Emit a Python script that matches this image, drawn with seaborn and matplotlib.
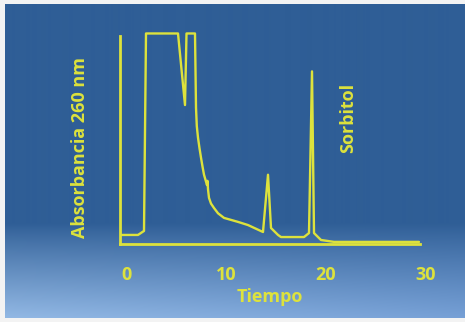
import numpy as np
import matplotlib
matplotlib.use('Agg')
import matplotlib.pyplot as plt
import matplotlib.transforms as mtransforms
import seaborn as sns

# chromatogram trace (time in min, absorbance in arbitrary units)
tiempo = [0.15, 1.8, 2.4, 2.6, 5.8, 6.5, 6.65, 7.5, 7.6, 7.68, 7.8, 7.95, 8.1, 8.25,
          8.4, 8.7, 8.75, 8.8, 8.9, 9.1, 9.4, 9.8, 10.4, 11.8, 12.8, 14.3, 14.8,
          15.1, 15.8, 16.1, 17.4, 18.4, 18.9, 19.2, 19.4, 20.1, 21.4, 29.9]
absorbancia = [4.3, 4.3, 6.2, 100, 100, 66, 100, 100, 64.8, 56, 50.5, 45.5, 41, 36.8,
               32.9, 28, 30, 26, 21.9, 19.2, 17.1, 14.6, 12.4, 10.5, 9.0, 5.7, 32.9,
               7.6, 4.3, 3.3, 3.3, 3.3, 5.2, 82, 5.2, 1.9, 1.0, 1.0]
xticks = [0, 10, 20, 30]
xtick_labels = ['0', '10', '20', '30']

sns.set_theme(style='white')
plt.rcParams['font.family'] = ['Open Sans', 'DejaVu Sans']

yellow = '#dde23c'
fig = plt.figure(figsize=(4.65, 3.22), dpi=100)
fig.patch.set_facecolor('#f3f3f3')

# blue gradient panel behind the chart
bg = fig.add_axes([5 / 465, 4 / 322, 460 / 465, 314 / 322])
h, w = 314, 460
rows = np.linspace(0, 1, h)[:, None]
cols = np.linspace(0, 1, w)[None, :]
top = np.array([47, 94, 150]) / 255
bot_l = np.array([146, 184, 228]) / 255
bot_r = np.array([118, 160, 214]) / 255
blend = np.clip((rows - 0.70) / 0.30, 0, 1) ** 0.9
bottom = bot_l[None, None, :] * (1 - cols[..., None]) + bot_r[None, None, :] * cols[..., None]
img = top[None, None, :] * (1 - blend[..., None]) + bottom * blend[..., None]
bg.imshow(img, aspect='auto', interpolation='bilinear')
bg.axis('off')

ax = fig.add_axes([120 / 465, (322 - 244) / 322, 300 / 465, 220 / 322])
ax.patch.set_alpha(0)
sns.lineplot(x=tiempo, y=absorbancia, ax=ax, color=yellow, linewidth=1.7,
             sort=False, estimator=None)
ax.set_xlim(0, 30)
ax.set_ylim(0, 104.5)

for s in ['top', 'right']:
    ax.spines[s].set_visible(False)
for s in ['left', 'bottom']:
    ax.spines[s].set_color(yellow)
    ax.spines[s].set_linewidth(2)
ax.spines['left'].set_bounds(0, 98.6)

ax.set_yticks([])
ax.set_xticks(xticks)
ax.set_xticklabels(xtick_labels)
ax.tick_params(axis='x', direction='out', length=7, width=2, color=yellow,
               labelcolor=yellow, labelsize=13, pad=9)
offset = mtransforms.ScaledTranslation(6 / 100, 0, fig.dpi_scale_trans)
for lab in ax.get_xticklabels():
    lab.set_fontweight('bold')
    lab.set_transform(lab.get_transform() + offset)

ax.set_xlabel('Tiempo', color=yellow, fontsize=13, fontweight='bold', labelpad=3)
ax.set_ylabel('')
fig.text(80 / 465, 1 - 147 / 322, 'Absorbancia 260 nm', rotation=90, color=yellow,
         fontsize=13, fontweight='bold', ha='center', va='center')
fig.text(348 / 465, 1 - 118 / 322, 'Sorbitol', rotation=90, color=yellow,
         fontsize=13, fontweight='bold', ha='center', va='center')

fig.savefig('out.png', dpi=100, facecolor=fig.get_facecolor())
